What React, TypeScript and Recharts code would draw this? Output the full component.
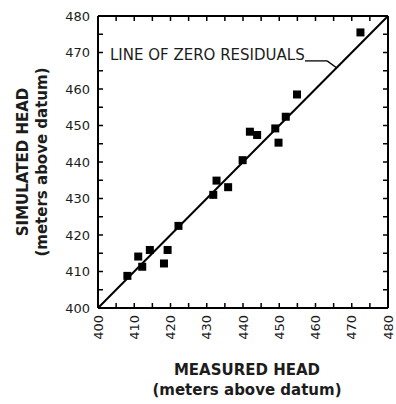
import React from 'react';
import { ComposedChart, Scatter, XAxis, YAxis, ReferenceLine } from 'recharts';

const measuredHead = [408.1, 411.1, 412.2, 414.3, 418.2, 419.2, 422.2, 431.8, 432.7, 435.9, 439.9, 441.9, 443.9, 448.9, 449.8, 451.8, 454.9, 472.4];
const simulatedHead = [408.8, 414.1, 411.3, 415.9, 412.2, 415.9, 422.5, 431.0, 434.9, 433.1, 440.5, 448.3, 447.4, 449.2, 445.3, 452.4, 458.5, 475.5];
const tickValues = [400, 405, 410, 415, 420, 425, 430, 435, 440, 445, 450, 455, 460, 465, 470, 475, 480];
const labelValues = [400, 410, 420, 430, 440, 450, 460, 470, 480];
const zeroResidualLine = [{ x: 400, y: 400 }, { x: 480, y: 480 }];
const leaderLine = [{ x: 457.1, y: 467.7 }, { x: 463.2, y: 467.7 }, { x: 465.8, y: 465.8 }];
const annotation = [{ x: 403.3, y: 469.3, text: 'LINE OF ZERO RESIDUALS' }];
const xTitle = ['MEASURED HEAD', '(meters above datum)'];
const yTitle = ['SIMULATED HEAD', '(meters above datum)'];

const points = measuredHead.map((m, i) => ({ x: m, y: simulatedHead[i] }));
const FONT = 'DejaVu Sans';
const TEXT = '#1c1c1c';
const TICK_LEN = 5;

const makeTick = (side: string, labelled: boolean) => (props: any) => {
  const { x, y, payload } = props;
  const v = payload.value;
  const show = labelled && labelValues.includes(v);
  let line;
  let label = null;
  if (side === 'bottom') {
    line = <line x1={x} y1={y} x2={x} y2={y - TICK_LEN} stroke="#000" strokeWidth={1.5} />;
    if (show)
      label = (
        <text x={x} y={y + 7} transform={`rotate(-90, ${x}, ${y + 7})`} textAnchor="end" dy="0.36em"
          fontFamily={FONT} fontSize={13} fill={TEXT}>{v}</text>
      );
  } else if (side === 'left') {
    line = <line x1={x} y1={y} x2={x + TICK_LEN} y2={y} stroke="#000" strokeWidth={1.5} />;
    if (show)
      label = (
        <text x={x - 8} y={y} textAnchor="end" dy="0.36em" fontFamily={FONT} fontSize={13} fill={TEXT}>{v}</text>
      );
  } else if (side === 'top') {
    line = <line x1={x} y1={y} x2={x} y2={y + TICK_LEN} stroke="#000" strokeWidth={1.5} />;
  } else {
    line = <line x1={x} y1={y} x2={x - TICK_LEN} y2={y} stroke="#000" strokeWidth={1.5} />;
  }
  return (
    <g>
      {line}
      {label}
    </g>
  );
};

const XTitle = (props: any) => {
  const vb = props.viewBox || { x: 98, y: 308, width: 290, height: 96 };
  const cx = vb.x + vb.width / 2 + 4;
  return (
    <g>
      <text x={cx} y={vb.y + 62} textAnchor="middle" dy="0.36em" fontFamily={FONT} fontSize={15} fontWeight="bold" fill={TEXT}>{xTitle[0]}</text>
      <text x={cx} y={vb.y + 82} textAnchor="middle" dy="0.36em" fontFamily={FONT} fontSize={15} fontWeight="bold" fill={TEXT}>{xTitle[1]}</text>
    </g>
  );
};

const YTitle = (props: any) => {
  const vb = props.viewBox || { x: 0, y: 16, width: 98, height: 292 };
  const cy = vb.y + vb.height / 2;
  const x1 = vb.x + 23;
  const x2 = vb.x + 42;
  return (
    <g>
      <text x={x1} y={cy} transform={`rotate(-90, ${x1}, ${cy})`} textAnchor="middle" dy="0.36em" fontFamily={FONT} fontSize={15} fontWeight="bold" fill={TEXT}>{yTitle[0]}</text>
      <text x={x2} y={cy} transform={`rotate(-90, ${x2}, ${cy})`} textAnchor="middle" dy="0.36em" fontFamily={FONT} fontSize={15} fontWeight="bold" fill={TEXT}>{yTitle[1]}</text>
    </g>
  );
};

const Square = (props: any) => {
  const { cx, cy } = props;
  if (cx == null || cy == null) return null;
  return <rect x={cx - 4} y={cy - 4} width={8} height={8} fill="#000" />;
};

const Nothing = () => <g />;

const AnnotationText = (props: any) => {
  const { cx, cy, payload } = props;
  return (
    <text x={cx} y={cy} dy="0.36em" fontFamily={FONT} fontSize={15} fill={TEXT}>{payload.text}</text>
  );
};

export default function App() {
  return (
    <div style={{ position: 'absolute', left: 0, top: 0, width: 396, height: 404, background: '#fff' }}>
      <ComposedChart width={396} height={404} margin={{ top: 15, right: 7, bottom: 0, left: 0 }}>
        <XAxis xAxisId="bottom" type="number" dataKey="x" orientation="bottom" domain={[400, 480]} ticks={tickValues}
          allowDataOverflow height={96} tickSize={0} tickMargin={0} tickLine={false}
          axisLine={{ stroke: '#000', strokeWidth: 2 }} tick={makeTick('bottom', true)} interval={0}
          label={{ content: (p: any) => <XTitle {...p} /> }} />
        <XAxis xAxisId="top" type="number" dataKey="x" orientation="top" domain={[400, 480]} ticks={tickValues}
          allowDataOverflow height={1} tickSize={0} tickMargin={0} tickLine={false}
          axisLine={{ stroke: '#000', strokeWidth: 2 }} tick={makeTick('top', false)} interval={0} />
        <YAxis yAxisId="left" type="number" dataKey="y" orientation="left" domain={[400, 480]} ticks={tickValues}
          allowDataOverflow width={98} tickSize={0} tickMargin={0} tickLine={false}
          axisLine={{ stroke: '#000', strokeWidth: 2 }} tick={makeTick('left', true)} interval={0}
          label={{ content: (p: any) => <YTitle {...p} /> }} />
        <YAxis yAxisId="right" type="number" dataKey="y" orientation="right" domain={[400, 480]} ticks={tickValues}
          allowDataOverflow width={1} tickSize={0} tickMargin={0} tickLine={false}
          axisLine={{ stroke: '#000', strokeWidth: 2 }} tick={makeTick('right', false)} interval={0} />
        <ReferenceLine xAxisId="bottom" yAxisId="left" segment={zeroResidualLine} stroke="#000" strokeWidth={2} ifOverflow="visible" />
        <ReferenceLine xAxisId="bottom" yAxisId="left" segment={[leaderLine[0], leaderLine[1]]} stroke="#000" strokeWidth={1.3} ifOverflow="visible" />
        <ReferenceLine xAxisId="bottom" yAxisId="left" segment={[leaderLine[1], leaderLine[2]]} stroke="#000" strokeWidth={1.3} ifOverflow="visible" />
        <Scatter xAxisId="top" yAxisId="right" data={points} dataKey="y" shape={Nothing} isAnimationActive={false} />
        <Scatter xAxisId="bottom" yAxisId="left" data={annotation} dataKey="y" shape={AnnotationText} isAnimationActive={false} />
        <Scatter xAxisId="bottom" yAxisId="left" data={points} dataKey="y" shape={Square} isAnimationActive={false} />
      </ComposedChart>
    </div>
  );
}
